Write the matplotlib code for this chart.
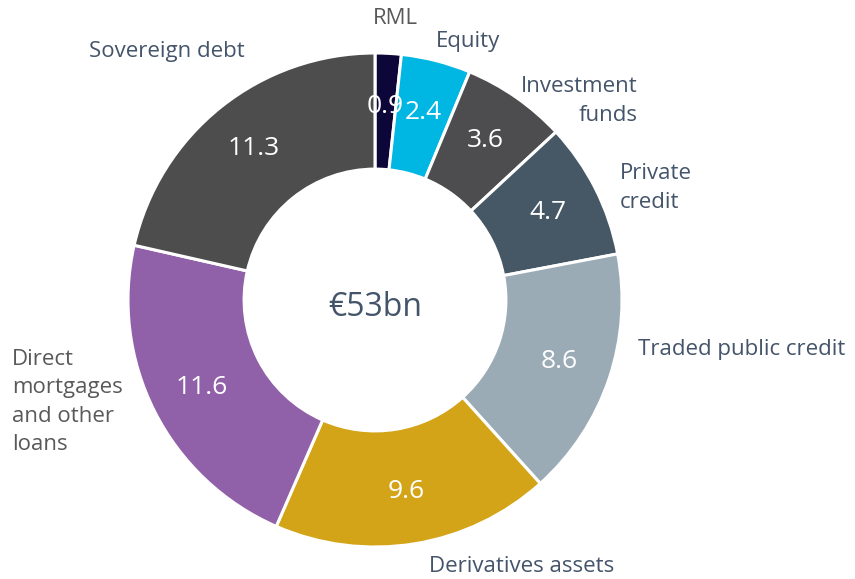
import matplotlib.pyplot as plt
import numpy as np

plt.rcParams['font.family'] = ['Open Sans', 'DejaVu Sans']

# segments, clockwise from the top
labels = ['RML', 'Equity', 'Investment\nfunds', 'Private\ncredit', 'Traded public credit',
          'Derivatives assets', 'Direct\nmortgages\nand other\nloans', 'Sovereign debt']
values = [0.9, 2.4, 3.6, 4.7, 8.6, 9.6, 11.6, 11.3]
colors = ['#0d0638', '#00b6e3', '#4d4d4f', '#465866', '#9aabb6', '#d4a418', '#9061a8', '#4d4d4d']
total_label = '€53bn'

W, H = 855, 579
fig = plt.figure(figsize=(W / 100, H / 100), dpi=100)
ax = fig.add_axes([0, 0, 1, 1])

width = 0.47
wedges, _ = ax.pie(values, startangle=90, counterclock=False, colors=colors,
                   radius=1, wedgeprops=dict(width=width, edgecolor='white', linewidth=2.2))

# donut centre / radius in pixels (set after pie, which resets limits)
cx, cy, R = 375, 300, 247
ax.set_xlim(-cx / R, (W - cx) / R)
ax.set_ylim(-(H - cy) / R, cy / R)
ax.set_aspect('equal')
ax.axis('off')

# value labels in the middle of the ring
rmid = 1 - width / 2 + 0.02
for w, v in zip(wedges, values):
    ang = np.deg2rad((w.theta1 + w.theta2) / 2)
    ax.text(rmid * np.cos(ang), rmid * np.sin(ang), f'{v:.1f}', ha='center', va='center',
            fontsize=19, color='white')

ax.text(0, -0.03, total_label, ha='center', va='center', fontsize=23, color='#44546a')

# outer labels (pixel anchor, alignment, colour)
label_pos = [(395, 18, 'center', '#595959'),
             (468, 42, 'center', '#44546a'),
             (638, 101, 'right', '#44546a'),
             (620, 188, 'left', '#44546a'),
             (638, 350, 'left', '#44546a'),
             (522, 566, 'center', '#44546a'),
             (12, 402, 'left', '#595959'),
             (167, 52, 'center', '#44546a')]
for txt, (px, py, ha, c) in zip(labels, label_pos):
    fig.text(px / W, 1 - py / H, txt, ha=ha, va='center', fontsize=16, color=c,
             linespacing=1.45, multialignment=ha)

fig.savefig('out.png', dpi=100)
